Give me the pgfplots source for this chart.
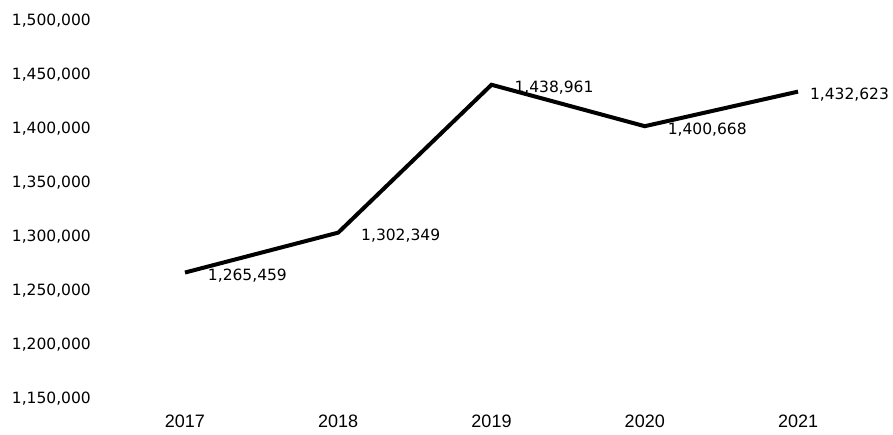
\documentclass[border=0pt]{standalone}
\usepackage{pgfplots}
\usepackage{pgfplotstable}
\pgfplotsset{compat=1.18}
\usepackage{fontspec}
\setmainfont{DejaVu Sans}
\newfontfamily\xfont{Liberation Sans}

\pgfplotstableread{
year value label
2017 1265459 1,265,459
2018 1302349 1,302,349
2019 1438961 1,438,961
2020 1400668 1,400,668
2021 1432623 1,432,623
}\datatable

\begin{document}
\begin{tikzpicture}
\useasboundingbox (-120pt,-37.5pt) rectangle (773pt,397.5pt);
\begin{axis}[
  at={(0,0)}, anchor=south west,
  scale only axis,
  width=743pt, height=378.8pt,
  xmin=2016.576, xmax=2021.424,
  ymin=1150000, ymax=1500000,
  xtick={2017,2018,2019,2020,2021},
  xticklabels={2017,2018,2019,2020,2021},
  ytick={1150000,1200000,1250000,1300000,1350000,1400000,1450000,1500000},
  scaled y ticks=false,
  axis line style={draw=none},
  major tick length=0pt,
  clip=false,
  yticklabel style={/pgf/number format/.cd, fixed, 1000 sep={,}, assume math mode=true, /tikz/.cd,
    anchor=east, inner sep=0pt, xshift=-29pt, yshift=-1.5pt,
    font=\fontsize{15.5}{17}\selectfont},
  xticklabel style={anchor=north, inner sep=0pt, yshift=-17.5pt,
    font=\xfont\fontsize{18}{20}\selectfont},
  nodes near coords,
  point meta=explicit symbolic,
  nodes near coords style={anchor=west, inner sep=0pt, xshift=21pt, yshift=-3pt,
    font=\fontsize{15.5}{17}\selectfont},
  coordinate style/.condition={x>2020.5}{xshift=-11pt},
]
\addplot[black, line width=4pt, mark=none] table[x=year, y=value, meta=label] {\datatable};
\end{axis}
\end{tikzpicture}
\end{document}
